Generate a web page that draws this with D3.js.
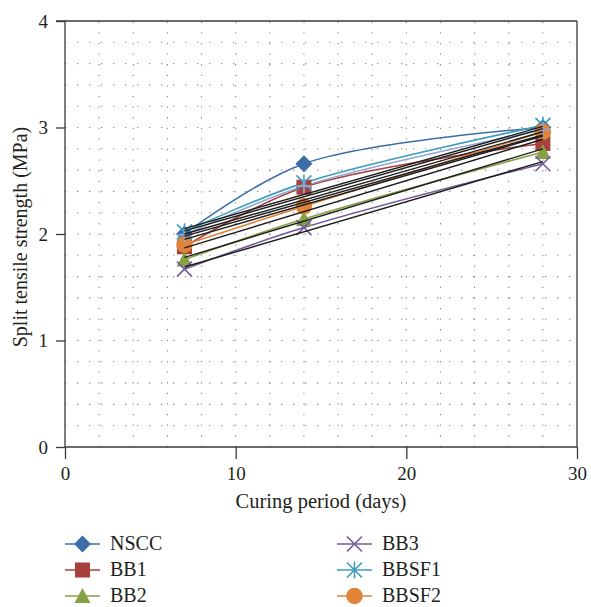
<!DOCTYPE html>
<html>
<head>
<meta charset="utf-8">
<script src="https://cdn.jsdelivr.net/npm/d3@7"></script>
<style>
  html, body { margin: 0; padding: 0; background: #fff; }
  svg { display: block; }
  text { font-family: "Liberation Serif", "DejaVu Serif", serif; fill: #231f20; }
</style>
</head>
<body>
<svg id="chart" width="591" height="607"></svg>
<script>
// Curing ages (days)
const days = [7, 14, 28];

// Split tensile strength (MPa) per mix
const NSCC  = [2.00, 2.66, 3.00];
const BB1   = [1.88, 2.44, 2.85];
const BB2   = [1.76, 2.14, 2.77];
const BB3   = [1.67, 2.06, 2.66];
const BBSF1 = [2.02, 2.48, 3.02];
const BBSF2 = [1.90, 2.26, 2.96];
const BBSF3 = [1.99, 2.45, 2.98];

// Straight linear trend lines, value at day 7 and at day 28
const trendStart = [2.05, 2.03, 2.00, 1.98, 1.95, 1.87, 1.78, 1.69];
const trendEnd   = [3.01, 2.99, 2.96, 2.93, 2.92, 2.89, 2.80, 2.68];

// Axis ticks
const xTicks = [0, 10, 20, 30];
const yTicks = [0, 1, 2, 3, 4];

const series = [
  { name: "NSCC",  values: NSCC,  color: "#3e6ea8", marker: "diamond",  legend: true },
  { name: "BB1",   values: BB1,   color: "#a8403d", marker: "square",   legend: true },
  { name: "BB2",   values: BB2,   color: "#86a046", marker: "triangle", legend: true },
  { name: "BB3",   values: BB3,   color: "#745a98", marker: "cross",    legend: true },
  { name: "BBSF1", values: BBSF1, color: "#3f9bbb", marker: "star",     legend: true },
  { name: "BBSF2", values: BBSF2, color: "#e0843a", marker: "circle",   legend: true },
  { name: "BBSF3", values: BBSF3, color: "#8fa9d6", marker: "plus",     legend: false }
];

const svg = d3.select("#chart");
const margin = { left: 65, top: 21, right: 14, bottom: 160 };
const W = 591, H = 607;
const x = d3.scaleLinear().domain([0, 30]).range([margin.left, W - margin.right]);
const y = d3.scaleLinear().domain([0, 4]).range([H - margin.bottom, margin.top]);

const axisColor = "#3a3a3a";

// Dotted gridlines
const grid = svg.append("g");
grid.selectAll("line.h")
  .data(d3.range(1, 20).map(i => i * 0.2))
  .join("line")
  .attr("x1", x(0)).attr("x2", x(30))
  .attr("y1", d => y(d)).attr("y2", d => y(d))
  .attr("stroke", "#8a8a8a").attr("stroke-width", 1.1)
  .attr("stroke-dasharray", "1.3,10.7");
grid.selectAll("line.v")
  .data(d3.range(1, 15).map(i => i * 2))
  .join("line")
  .attr("x1", d => x(d)).attr("x2", d => x(d))
  .attr("y1", y(0)).attr("y2", y(4))
  .attr("stroke", "#8a8a8a").attr("stroke-width", 1.1)
  .attr("stroke-dasharray", "1.3,9.3");

// Axes
const xAxis = svg.append("g")
  .attr("transform", `translate(0,${y(0)})`)
  .call(d3.axisBottom(x).tickValues(xTicks).tickFormat(d3.format("d"))
    .tickSize(12).tickSizeOuter(0).tickPadding(8));
const yAxis = svg.append("g")
  .attr("transform", `translate(${x(0)},0)`)
  .call(d3.axisLeft(y).tickValues(yTicks).tickFormat(d3.format("d"))
    .tickSize(9).tickSizeOuter(0).tickPadding(8));
[xAxis, yAxis].forEach(g => {
  g.select(".domain").remove();
  g.selectAll(".tick line").attr("stroke", axisColor).attr("stroke-width", 1.3);
  g.selectAll(".tick text")
    .attr("font-family", "Liberation Serif, serif")
    .attr("font-size", 19).attr("fill", "#231f20");
});

// Plot frame
const frame = svg.append("g").attr("stroke", axisColor).attr("stroke-width", 1.3);
frame.append("line").attr("x1", x(0)).attr("x2", x(0)).attr("y1", y(4)).attr("y2", y(0));
frame.append("line").attr("x1", x(0)).attr("x2", x(30)).attr("y1", y(0)).attr("y2", y(0));
frame.append("line").attr("x1", x(30)).attr("x2", x(30)).attr("y1", y(4)).attr("y2", y(0));
frame.append("line").attr("x1", x(0) - 9).attr("x2", x(30)).attr("y1", y(4)).attr("y2", y(4));

// Axis titles
svg.append("text")
  .attr("x", (x(0) + x(30)) / 2).attr("y", 508)
  .attr("text-anchor", "middle").attr("font-size", 20.5)
  .text("Curing period (days)");
svg.append("text")
  .attr("transform", `translate(27,${(y(0) + y(4)) / 2 + 3}) rotate(-90)`)
  .attr("text-anchor", "middle").attr("font-size", 20)
  .text("Split tensile strength (MPa)");

// Marker drawing
function drawMarker(g, type, color, cx, cy) {
  switch (type) {
    case "diamond": {
      const r = 8.5;
      g.append("path")
        .attr("d", `M${cx},${cy - r}L${cx + r},${cy}L${cx},${cy + r}L${cx - r},${cy}Z`)
        .attr("fill", color);
      break;
    }
    case "square":
      g.append("rect").attr("x", cx - 7.5).attr("y", cy - 7.5)
        .attr("width", 15).attr("height", 15).attr("fill", color);
      break;
    case "triangle": {
      const w = 8, h = 14;
      g.append("path")
        .attr("d", `M${cx},${cy - h / 2 - 1}L${cx + w},${cy + h / 2}L${cx - w},${cy + h / 2}Z`)
        .attr("fill", color);
      break;
    }
    case "circle":
      g.append("circle").attr("cx", cx).attr("cy", cy).attr("r", 8.3).attr("fill", color);
      break;
    case "cross": {
      const r = 7.5;
      g.append("path")
        .attr("d", `M${cx - r},${cy - r}L${cx + r},${cy + r}M${cx - r},${cy + r}L${cx + r},${cy - r}`)
        .attr("stroke", color).attr("stroke-width", 1.6).attr("fill", "none");
      break;
    }
    case "star": {
      const r = 7.5;
      g.append("path")
        .attr("d", `M${cx - r},${cy - r}L${cx + r},${cy + r}M${cx - r},${cy + r}L${cx + r},${cy - r}M${cx},${cy - r - 1}L${cx},${cy + r + 1}`)
        .attr("stroke", color).attr("stroke-width", 1.6).attr("fill", "none");
      break;
    }
    case "plus": {
      const r = 7.5;
      g.append("path")
        .attr("d", `M${cx - r},${cy}L${cx + r},${cy}M${cx},${cy - r}L${cx},${cy + r}`)
        .attr("stroke", color).attr("stroke-width", 1.6).attr("fill", "none");
      break;
    }
  }
}

// Smoothed series lines and markers
const line = d3.line()
  .x(d => x(d[0])).y(d => y(d[1]))
  .curve(d3.curveCatmullRom.alpha(0.5));
const plot = svg.append("g");
series.forEach(s => {
  const pts = days.map((d, i) => [d, s.values[i]]);
  plot.append("path").datum(pts)
    .attr("d", line).attr("fill", "none")
    .attr("stroke", s.color).attr("stroke-width", 1.6);
});
series.forEach(s => {
  const g = plot.append("g");
  days.forEach((d, i) => drawMarker(g, s.marker, s.color, x(d), y(s.values[i])));
});

// Linear trend lines
svg.append("g").selectAll("line")
  .data(trendStart.map((v, i) => [v, trendEnd[i]]))
  .join("line")
  .attr("x1", x(days[0])).attr("y1", d => y(d[0]))
  .attr("x2", x(days[days.length - 1])).attr("y2", d => y(d[1]))
  .attr("stroke", "#1c1c1c").attr("stroke-width", 1.4);

// Legend (two columns)
const legendItems = series.filter(s => s.legend);
const legend = svg.append("g");
legendItems.forEach((s, i) => {
  const col = Math.floor(i / 3), row = i % 3;
  const lx = col === 0 ? 65 : 337;
  const ly = 544 + row * 26;
  const g = legend.append("g");
  g.append("line").attr("x1", lx).attr("x2", lx + 35).attr("y1", ly).attr("y2", ly)
    .attr("stroke", s.color).attr("stroke-width", 1.6);
  drawMarker(g, s.marker, s.color, lx + 17.5, ly);
  g.append("text").attr("x", lx + 45).attr("y", ly + 6)
    .attr("font-size", 20).text(s.name);
});
</script>
</body>
</html>
